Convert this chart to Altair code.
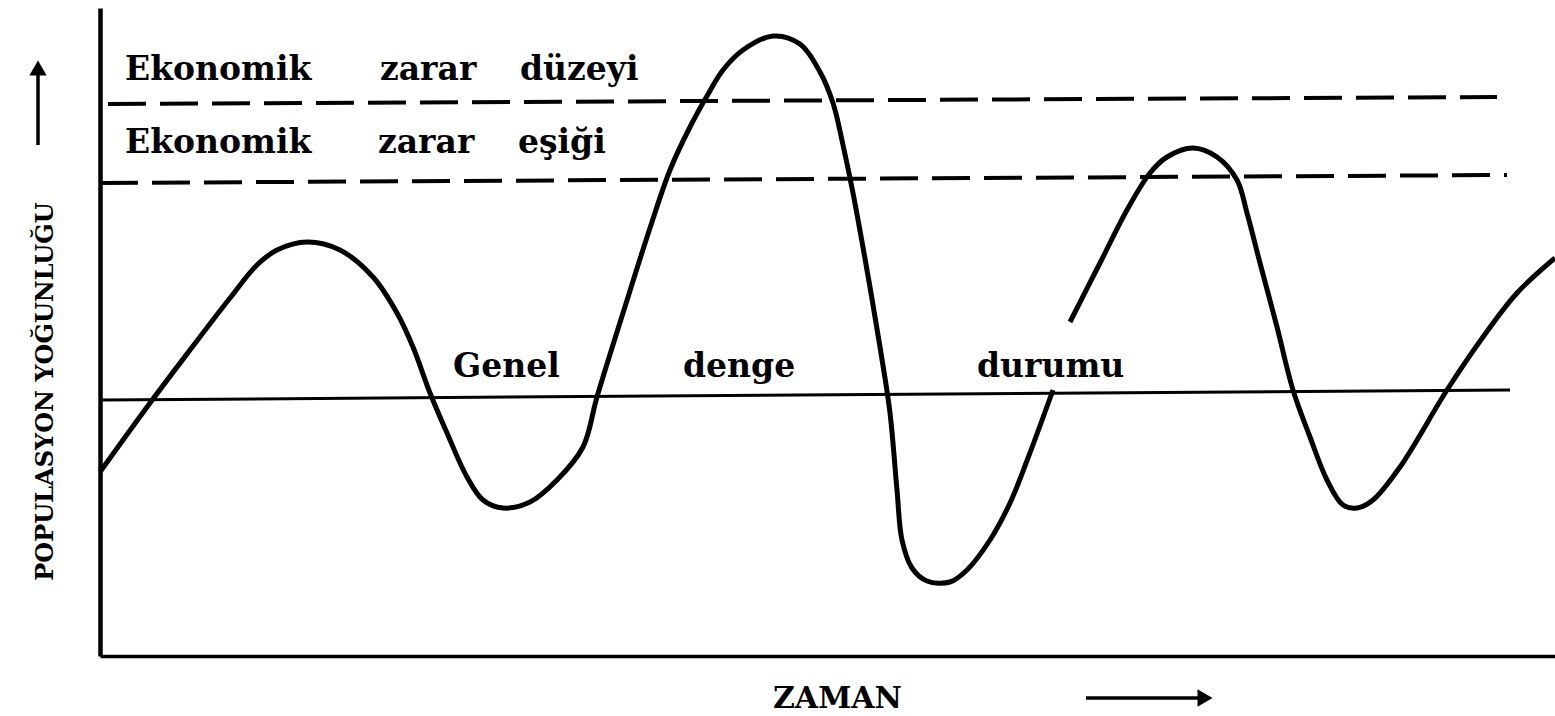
import altair as alt
import pandas as pd

# Population density over time (schematic units: time 0..1455, density 0..648)
curve_t_a = [0, 50, 90, 130, 157, 177, 207, 240, 273, 297, 313, 330, 347, 367, 383,
             403, 430, 457, 483, 497, 523, 550, 570, 590, 607, 623, 643, 673, 700, 720,
             733, 743, 753, 767, 780, 790, 797, 802, 812, 827, 850, 867, 890, 910, 928, 953]
curve_d_a = [184, 253, 306, 358, 391, 406, 414, 406, 379, 343, 309, 263, 223, 179, 156,
             148, 154, 176, 209, 259, 343, 428, 486, 529, 560, 586, 606, 620, 612, 584,
             553, 511, 463, 386, 309, 243, 166, 116, 88, 75, 74, 86, 116, 153, 198, 266]
curve_t_b = [970, 1000, 1027, 1050, 1067, 1093, 1117, 1137, 1147, 1160, 1177, 1193, 1210,
             1227, 1243, 1257, 1273, 1300, 1347, 1383, 1417, 1455]
curve_d_b = [334, 393, 446, 483, 499, 508, 499, 476, 443, 393, 329, 266, 219,
             176, 151, 148, 156, 189, 266, 319, 363, 398]

# Reference levels
level_names = ["Ekonomik zarar düzeyi", "Ekonomik zarar eşiği", "Genel denge durumu"]
level_t_start = [8, 0, 0]
level_t_end = [1397, 1407, 1410]
level_d_start = [552, 473, 256]
level_d_end = [559, 481, 266]
level_dashed = [True, True, False]

# Level captions, word by word
word_text = ["Ekonomik", "zarar", "düzeyi", "Ekonomik", "zarar", "eşiği", "Genel", "denge", "durumu"]
word_t = [25, 280, 420, 25, 278, 418, 353, 583, 877]
word_d = [576, 576, 576, 503, 503, 503, 279, 279, 279]

# Direction arrows beside the axis titles
arrow_t = [-62, 986]
arrow_d = [511, -42]
arrow_t2 = [-62, 1105]
arrow_d2 = [588, -42]
arrow_head = ["triangle-up", "triangle-right"]

FONT = "DejaVu Serif"

curve = pd.DataFrame({
    "t": curve_t_a + curve_t_b,
    "d": curve_d_a + curve_d_b,
    "seg": ["a"] * len(curve_t_a) + ["b"] * len(curve_t_b),
})

levels_rows = []
for name, t0, t1, d0, d1, dashed in zip(level_names, level_t_start, level_t_end,
                                        level_d_start, level_d_end, level_dashed):
    levels_rows.append({"name": name, "t": t0, "d": d0, "dashed": dashed})
    levels_rows.append({"name": name, "t": t1, "d": d1, "dashed": dashed})
levels = pd.DataFrame(levels_rows)

words = pd.DataFrame({"word": word_text, "t": word_t, "d": word_d})
arrows = pd.DataFrame({"t": arrow_t, "d": arrow_d, "t2": arrow_t2, "d2": arrow_d2})
heads = pd.DataFrame({"t": arrow_t2, "d": arrow_d2, "shape": arrow_head})

x_enc = alt.X(
    "t:Q",
    scale=alt.Scale(domain=[0, 1455], nice=False, zero=False),
    axis=alt.Axis(
        title="ZAMAN", labels=False, ticks=False, grid=False,
        domainColor="black", domainWidth=3.5,
        titleFont=FONT, titleFontWeight="bold", titleFontSize=30, titleColor="black",
        titleX=737, titleY=42, titleAlign="center", titleBaseline="middle",
    ),
)
y_enc = alt.Y(
    "d:Q",
    scale=alt.Scale(domain=[0, 648], nice=False, zero=False),
    axis=alt.Axis(
        title="POPULASYON YOĞUNLUĞU", labels=False, ticks=False, grid=False,
        domainColor="black", domainWidth=4.5,
        titleFont=FONT, titleFontWeight="bold", titleFontSize=24, titleColor="black",
        titleAngle=270, titleX=-55, titleY=383, titleAlign="center", titleBaseline="middle",
    ),
)

curve_layer = alt.Chart(curve).mark_line(
    color="black", strokeWidth=5, interpolate="catmull-rom"
).encode(x=x_enc, y=y_enc, detail="seg:N")

dashed_layer = alt.Chart(levels[levels["dashed"]]).mark_line(
    color="black", strokeWidth=4, strokeDash=[38, 14]
).encode(x=x_enc, y=y_enc, detail="name:N")

solid_layer = alt.Chart(levels[~levels["dashed"]]).mark_line(
    color="black", strokeWidth=3
).encode(x=x_enc, y=y_enc, detail="name:N")

word_layer = alt.Chart(words).mark_text(
    font=FONT, fontWeight="bold", fontSize=33, color="black",
    align="left", baseline="alphabetic"
).encode(x=x_enc, y=y_enc, text="word:N")

shaft_layer = alt.Chart(arrows).mark_rule(color="black", strokeWidth=3.5).encode(
    x=x_enc, y=y_enc, x2="t2:Q", y2="d2:Q"
)

head_layer = alt.Chart(heads).mark_point(
    color="black", filled=True, opacity=1, size=300
).encode(x=x_enc, y=y_enc, shape=alt.Shape("shape:N", scale=None))

chart = alt.layer(
    curve_layer, dashed_layer, solid_layer, word_layer, shaft_layer, head_layer
).properties(
    width=1455,
    height=648,
    autosize=alt.AutoSizeParams(type="none"),
    padding={"left": 100, "top": 8, "right": 0, "bottom": 60},
    background="white",
).configure_view(stroke=None)

chart.save("out.html", embed_options={"renderer": "svg", "actions": False})
